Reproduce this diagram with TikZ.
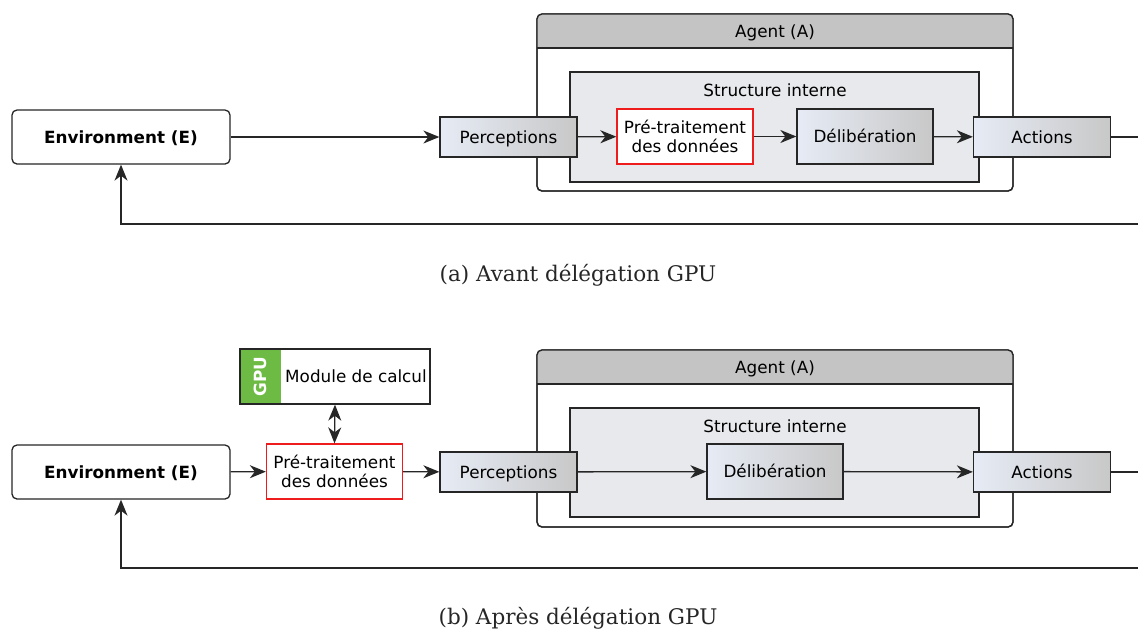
\documentclass[tikz,border=0pt]{standalone}
\usepackage{fontspec}
\setsansfont{DejaVu Sans}
\newfontfamily\capfont{DejaVu Serif}
\usetikzlibrary{arrows.meta,positioning}
\definecolor{hdrgray}{HTML}{C4C4C4}
\definecolor{strgray}{HTML}{E8E9EC}
\definecolor{gradl}{HTML}{E6EBF5}
\definecolor{gradr}{HTML}{C8C8C8}
\definecolor{gpugreen}{HTML}{6DBB45}
\definecolor{prered}{HTML}{EE1C1C}
\tikzset{
  every node/.style={font=\sffamily\fontsize{16.8}{19.5}\selectfont, inner sep=0pt, text height=12pt, text depth=0pt},
  ln/.style={line width=1.3pt, draw=black!85},
  tip/.tip={Stealth[length=16pt,width=13pt,inset=5pt]},
  arr/.style={ln, -tip},
  darr/.style={ln, tip-tip},
  gradbox/.style={ln, left color=gradl, right color=gradr, minimum width=137pt, minimum height=40pt},
  gradbig/.style={ln, left color=gradl, right color=gradr, minimum width=136pt, minimum height=55pt},
  prebox/.style={line width=1.3pt, draw=prered, fill=white, minimum width=136pt, minimum height=55pt, align=center, text height=, text depth=, font=\sffamily\fontsize{16.8}{18.3}\selectfont},
  envbox/.style={ln, rounded corners=5pt, fill=white, minimum width=218pt, minimum height=54pt, font=\sffamily\bfseries\fontsize{16.8}{19.5}\selectfont},
  outerbox/.style={ln, rounded corners=5pt, fill=white},
  strbox/.style={ln, fill=strgray},
  caption/.style={font=\capfont\fontsize{21.5}{25}\selectfont, text=black!85, text height=, text depth=},
}
\begin{document}
\begin{tikzpicture}[x=1pt,y=-1pt]
\useasboundingbox (0,0) rectangle (1138,630);
% ===================== (a) =====================
\draw[outerbox] (537,14) rectangle (1013,191);
\begin{scope}
\clip[rounded corners=5pt] (537,14) rectangle (1013,191);
\fill[hdrgray] (537,14) rectangle (1013,48);
\end{scope}
\draw[ln, rounded corners=5pt] (537,14) rectangle (1013,191);
\draw[ln] (537,48) -- (1013,48);
\node (agentA) at (775,31) {Agent (A)};
\draw[strbox] (570,72) rectangle (979,182);
\node (strA) at (775,90) {Structure interne};
\node[envbox] (envA) at (121,137) {Environment (E)};
\node[gradbox] (percA) at (508.5,137) {Perceptions};
\node[prebox] (preA) at (685,136.5) {Pré-traitement\\des données};
\node[gradbig] (delA) at (865,136.5) {Délibération};
\node[gradbox] (actA) at (1042,137) {Actions};
\coordinate (fbA1) at (1160,137);
\coordinate (fbA2) at (1160,224);
\coordinate (fbA3) at (121,224);
\draw[arr] (envA) -- (percA);
\draw[arr] (percA) -- (preA);
\draw[arr] (preA) -- (delA);
\draw[arr] (delA) -- (actA);
\draw[arr] (actA.east) -- (fbA1) -- (fbA2) -- (fbA3) -- (envA.south);
\node[caption] (capA) at (578,275) {(a) Avant délégation GPU};
% ===================== (b) =====================
\draw[outerbox] (537,350) rectangle (1013,527);
\begin{scope}
\clip[rounded corners=5pt] (537,350) rectangle (1013,527);
\fill[hdrgray] (537,350) rectangle (1013,384);
\end{scope}
\draw[ln, rounded corners=5pt] (537,350) rectangle (1013,527);
\draw[ln] (537,384) -- (1013,384);
\node (agentB) at (775,367) {Agent (A)};
\draw[strbox] (570,408) rectangle (979,517);
\node (strB) at (775,426) {Structure interne};
\node[envbox] (envB) at (121,472) {Environment (E)};
\node[prebox] (preB) at (334.5,471.5) {Pré-traitement\\des données};
\node[gradbox] (percB) at (508.5,472) {Perceptions};
\node[gradbig] (delB) at (775,471.5) {Délibération};
\node[gradbox] (actB) at (1042,472) {Actions};
% GPU module
\fill[gpugreen] (240,349) rectangle (281,404);
\node[ln, minimum width=190pt, minimum height=55pt] (modB) at (335,376.5) {};
\node (modtxt) at (356,376.5) {Module de calcul};
\node[rotate=90, text=white, font=\sffamily\bfseries\fontsize{16.8}{19.5}\selectfont] (gpuB) at (260.5,376.5) {GPU};
\draw[darr] (modB.south) -- (preB.north);
\coordinate (fbB1) at (1160,472);
\coordinate (fbB2) at (1160,568);
\coordinate (fbB3) at (121,568);
\draw[arr] (envB) -- (preB);
\draw[arr] (preB) -- (percB);
\draw[arr] (percB) -- (delB);
\draw[arr] (delB) -- (actB);
\draw[arr] (actB.east) -- (fbB1) -- (fbB2) -- (fbB3) -- (envB.south);
\node[caption] (capB) at (578,618) {(b) Après délégation GPU};
\end{tikzpicture}
\end{document}
